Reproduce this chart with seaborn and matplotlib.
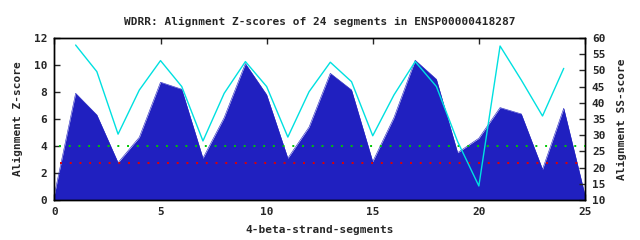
import matplotlib
matplotlib.use("Agg")
import matplotlib.pyplot as plt
import seaborn as sns
import pandas as pd

# Data
segments = list(range(0, 26))
z_scores = [0.4, 7.9, 6.3, 2.76, 4.64, 8.72, 8.2, 3.09, 6.1, 10.1, 7.8, 3.09, 5.4, 9.38,
            8.15, 2.84, 6.1, 10.35, 8.94, 3.5, 4.57, 6.84, 6.37, 2.27, 6.79, 0.37]
ss_positions = list(range(1, 25))
ss_scores = [57.8, 49.6, 30.3, 43.9, 53.0, 45.0, 28.2, 42.9, 52.7, 45.0, 29.4, 43.4,
             52.5, 46.5, 29.8, 42.4, 52.7, 45.0, 28.0, 14.3, 57.5, 47.0, 35.9, 50.6]
green_level = 4.0
red_level = 2.72
x_ticks = [0, 5, 10, 15, 20, 25]
y_ticks = [0, 2, 4, 6, 8, 10, 12]
y2_ticks = [10, 15, 20, 25, 30, 35, 40, 45, 50, 55, 60]

sns.set_style("white")
plt.rcParams['font.family'] = ['DejaVu Sans Mono', 'DejaVu Sans']
plt.rcParams['font.weight'] = 'bold'

df_z = pd.DataFrame({"seg": segments, "z": z_scores})
df_ss = pd.DataFrame({"seg": ss_positions, "ss": ss_scores})

fig = plt.figure(figsize=(6.4, 2.4), dpi=100)
ax = fig.add_axes([0.085, 0.167, 0.829, 0.675])

blue = "#2020c0"
ax.fill_between(df_z["seg"], 0, df_z["z"], color=blue, linewidth=0, zorder=1)
sns.lineplot(data=df_z, x="seg", y="z", ax=ax, color=blue, linewidth=0.4, zorder=2)

ax.set_xlim(0, 25)
ax.set_ylim(0, 12)
ax.set_xticks(x_ticks)
ax.set_yticks(y_ticks)
ax.set_xlabel("4-beta-strand-segments", fontsize=8, fontweight='bold', labelpad=6)
ax.set_ylabel("Alignment Z-score", fontsize=8, fontweight='bold', labelpad=8)
ax.tick_params(axis='both', direction='in', length=4, width=1, labelsize=8,
               top=True, bottom=True, left=True, right=False, pad=5)

ax2 = ax.twinx()
ax2.set_ylim(10, 60)
# threshold lines (converted into right-axis coordinates so they sit on top of the fill)
to_y2 = lambda v: 10 + v * 50.0 / 12.0
ax2.plot([0.2, 25], [to_y2(green_level)] * 2, color="#00c800", linestyle=(0, (1, 4)),
         linewidth=1.4, zorder=3)
ax2.plot([0.25, 24.8], [to_y2(red_level)] * 2, color="#e00000", linestyle=(0, (1, 4)),
         linewidth=1.4, zorder=3)
sns.lineplot(data=df_ss, x="seg", y="ss", ax=ax2, color="#00e0e0", linewidth=1.0, zorder=4)
ax2.set_yticks(y2_ticks)
ax2.set_ylabel("Alignment SS-score", fontsize=8, fontweight='bold', labelpad=8)
ax2.set_xlabel("")
ax2.set_xlim(0, 25)
ax2.tick_params(axis='y', direction='in', length=4, width=1, labelsize=8, right=True, pad=5)

for a in (ax, ax2):
    for s in a.spines.values():
        s.set_color("black")
        s.set_linewidth(1.0)
        s.set_visible(True)

fig.suptitle("WDRR: Alignment Z-scores of 24 segments in ENSP00000418287",
             fontsize=8, fontweight='bold', y=0.93)

fig.savefig("out.png", dpi=100)
